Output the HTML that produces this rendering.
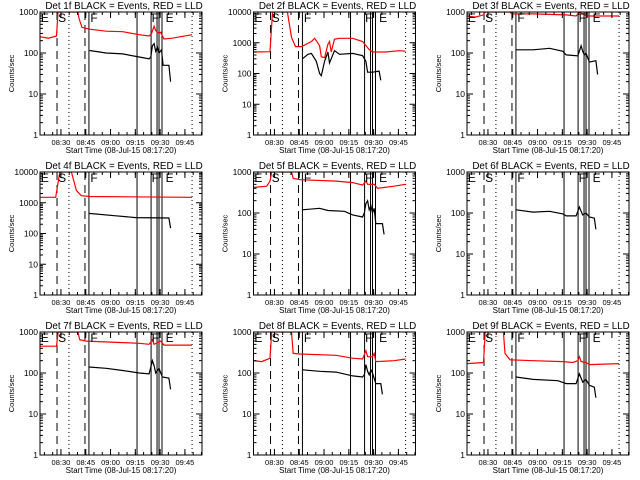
<!DOCTYPE html>
<html><head><meta charset="utf-8">
<style>
html,body{margin:0;padding:0;background:#fff;}
svg{display:block;font-family:"Liberation Sans",sans-serif;}
</style></head>
<body>
<svg id="c" width="640" height="480" viewBox="0 0 640 480"></svg>
<script>
// times in minutes since 08:17:20
const detNames = ["1f","2f","3f","4f","5f","6f","7f","8f","9f"];
const decades = [3,4,3,4,3,3,3,3,3];
const redT = [
 [0,5,10,10.9,23,23.6,25.4,30,40,50,60,66,67.5,69,70,72,73,75,80,92],
 [0,10,11.5,20.5,23,25.4,29,35,37,40,41,43,45,46,47,49,52,60,66,70,72,80,88,92],
 [0,5,10,11,26,27,40,60,66,68,72,80,92],
 [0,9.5,12,19,22,25,30,92],
 [0,8,10,11,23,24,28,50,60,66,68,69,73,75,85,92],
 [],
 [0,10,11,23,24,28,50,60,66,68,69,73,75,92],
 [0,5,10,11,23,24,28,50,60,66,68,69,72,73,74,85,92],
 [0,10,11,22,23,26,40,58,64,67,68,69,72,74,92]
];
const redV = [
 [250,230,260,1500,1500,700,420,380,340,330,280,260,300,450,350,300,320,220,230,280],
 [500,510,20000,20000,1500,750,750,1100,1400,800,350,330,900,1100,500,1300,1400,1400,1100,600,500,500,550,530],
 [800,750,850,1100,1100,900,900,850,800,1000,800,800,800],
 [1500,1500,12000,20000,2500,1700,1600,1500],
 [420,450,600,1100,1100,700,650,600,550,480,600,500,500,400,450,500],
 [],
 [450,450,1200,1200,650,600,550,530,500,650,500,600,480,480],
 [200,190,230,1100,1100,300,290,270,230,220,350,250,250,300,190,200,220],
 [170,180,1100,1100,300,210,200,190,180,200,250,190,180,160,170]
];
const blackT = [
 [30,40,50,60,66,67,68,69,70,71,72,73.5,74.5,77,78,79],
 [29.6,33,35,38,40,41,43,45,46,47,49,52,60,66,68,69,72,76,77],
 [29.6,40,50,58,60,67,69,70,71,72,74,78,79],
 [29.6,45,58,78,79],
 [29.6,40,45,55,60,66,67,68,69,70,71,72,73,74,78,79],
 [29.6,40,50,58,60,66,68,69,70,72,74,77,78],
 [29.6,40,50,60,66,68,69,70,72,74,78,79],
 [29.6,40,50,60,66,67,68,69,70,71,72,74,77,78],
 [29.6,40,55,60,66,68,69,70,72,74,77,78]
];
const blackV = [
 [115,100,95,80,72,80,150,170,110,140,100,120,50,50,50,20],
 [300,420,450,250,100,85,250,500,220,300,550,420,450,380,250,110,110,120,60],
 [120,120,130,110,90,85,150,110,90,100,60,65,30],
 [450,380,330,320,150],
 [120,130,115,110,90,80,100,170,200,120,150,100,130,55,55,30],
 [120,105,110,95,85,85,140,110,90,100,80,75,40],
 [140,130,115,100,95,200,150,100,130,80,75,40],
 [120,110,105,85,80,90,160,110,90,120,100,55,55,30],
 [80,70,65,55,55,95,75,60,70,50,45,25]
];
const xTickLabels = ["08:30","08:45","09:00","09:15","09:30","09:45"];
const xTickTimes = [12.67,27.67,42.67,57.67,72.67,87.67];
const dashedT = [10.3,27.2];
const dottedT = [17.5,92];
const solidT = [29.6,58.7,67.2,70.8,72,73.8];
const markerLabels = ["E","S","F","F","E"];
const markerT = [0.5,11,30.5,67.5,76];

const NS="http://www.w3.org/2000/svg";
const svg=document.getElementById('c');
function mk(tag,attrs,parent){const e=document.createElementNS(NS,tag);for(const k in attrs)e.setAttribute(k,attrs[k]);(parent||svg).appendChild(e);return e;}

for(let p=0;p<9;p++){
  const col=p%3,row=Math.floor(p/3);
  const ox=col*213.5,oy=row*160;
  const L=ox+40,R=ox+202,T=oy+12,B=oy+135;
  const dec=decades[p];
  const xs=t=>L+t*1.653;
  const ys=v=>{let y=B-(Math.log10(Math.max(v,1)))*(B-T)/dec;return Math.max(T,Math.min(B,y));};
  const g=mk('g',{});
  
  
  const title=mk('text',{x:(L+R)/2+3,y:oy+9,'text-anchor':'middle','font-size':'9.8'},g);
  title.textContent='Det '+detNames[p]+' BLACK = Events, RED = LLD';
  
  
  const cid='clip'+p;
  const cp=mk('clipPath',{id:cid},g);mk('rect',{x:L,y:T,width:R-L,height:B-T},cp);
  const inner=mk('g',{'clip-path':'url(#'+cid+')'},g);
  dashedT.forEach(t=>{const l=mk('line',{x1:xs(t),x2:xs(t),y1:T,y2:B,stroke:'#000','stroke-dasharray':'8,5'},inner);});
  dottedT.forEach(t=>{const l=mk('line',{x1:xs(t),x2:xs(t),y1:T,y2:B,stroke:'#000','stroke-dasharray':'1,3'},inner);});
  solidT.forEach(t=>{const l=mk('line',{x1:xs(t),x2:xs(t),y1:T,y2:B,stroke:'#000'},inner);});
  markerLabels.forEach((s,i)=>{const tx=mk('text',{x:xs(markerT[i]),y:T+10,'font-size':'12'},g);tx.textContent=s;});
  if(redT[p].length){
    const pts=redT[p].map((t,i)=>xs(t).toFixed(1)+','+ys(redV[p][i]).toFixed(1)).join(' ');
    const pl=mk('polyline',{points:pts,fill:'none',stroke:'#f00','stroke-width':'1.2'},inner);
    
  }
  const bpts=blackT[p].map((t,i)=>xs(t).toFixed(1)+','+ys(blackV[p][i]).toFixed(1)).join(' ');
  const bl=mk('polyline',{points:bpts,fill:'none',stroke:'#000','stroke-width':'1.2'},inner);
  
  const fr=mk('rect',{x:L,y:T,width:R-L,height:B-T,fill:'none',stroke:'#000'},g);
  
  for(let d=0;d<=dec;d++){
    const y=B-d*(B-T)/dec;
    mk('line',{x1:L,x2:L+6,y1:y,y2:y,stroke:'#000'},g);
    mk('line',{x1:R,x2:R-6,y1:y,y2:y,stroke:'#000'},g);
    const tl=mk('text',{x:L-2,y:y+3,'text-anchor':'end','font-size':'8.5'},g);
    tl.textContent=String(Math.pow(10,d));
    
    if(d<dec){for(let m=2;m<=9;m++){const ym=y-Math.log10(m)*(B-T)/dec;
      mk('line',{x1:L,x2:L+3,y1:ym,y2:ym,stroke:'#000'},g);mk('line',{x1:R,x2:R-3,y1:ym,y2:ym,stroke:'#000'},g);}}
  }
  for(let t=2.67;t<98;t+=5){const x=xs(t);mk('line',{x1:x,x2:x,y1:B,y2:B-3,stroke:'#000'},g);mk('line',{x1:x,x2:x,y1:T,y2:T+3,stroke:'#000'},g);}
  xTickLabels.forEach((s,i)=>{const x=xs(xTickTimes[i]);
    mk('line',{x1:x,x2:x,y1:B,y2:B-6,stroke:'#000'},g);mk('line',{x1:x,x2:x,y1:T,y2:T+6,stroke:'#000'},g);
    const tl=mk('text',{x:x,y:B+10,'text-anchor':'middle','font-size':'7.5'},g);tl.textContent=s;
    });
  const xt=mk('text',{x:(L+R)/2,y:B+18,'text-anchor':'middle','font-size':'8'},g);
  xt.textContent='Start Time (08-Jul-15 08:17:20)';
  
  const yt=mk('text',{x:0,y:0,'text-anchor':'middle','font-size':'7.5',transform:'translate('+(ox+14)+','+((T+B)/2)+') rotate(-90)'},g);
  yt.textContent='Counts/sec';
  
}
</script>
</body></html>
